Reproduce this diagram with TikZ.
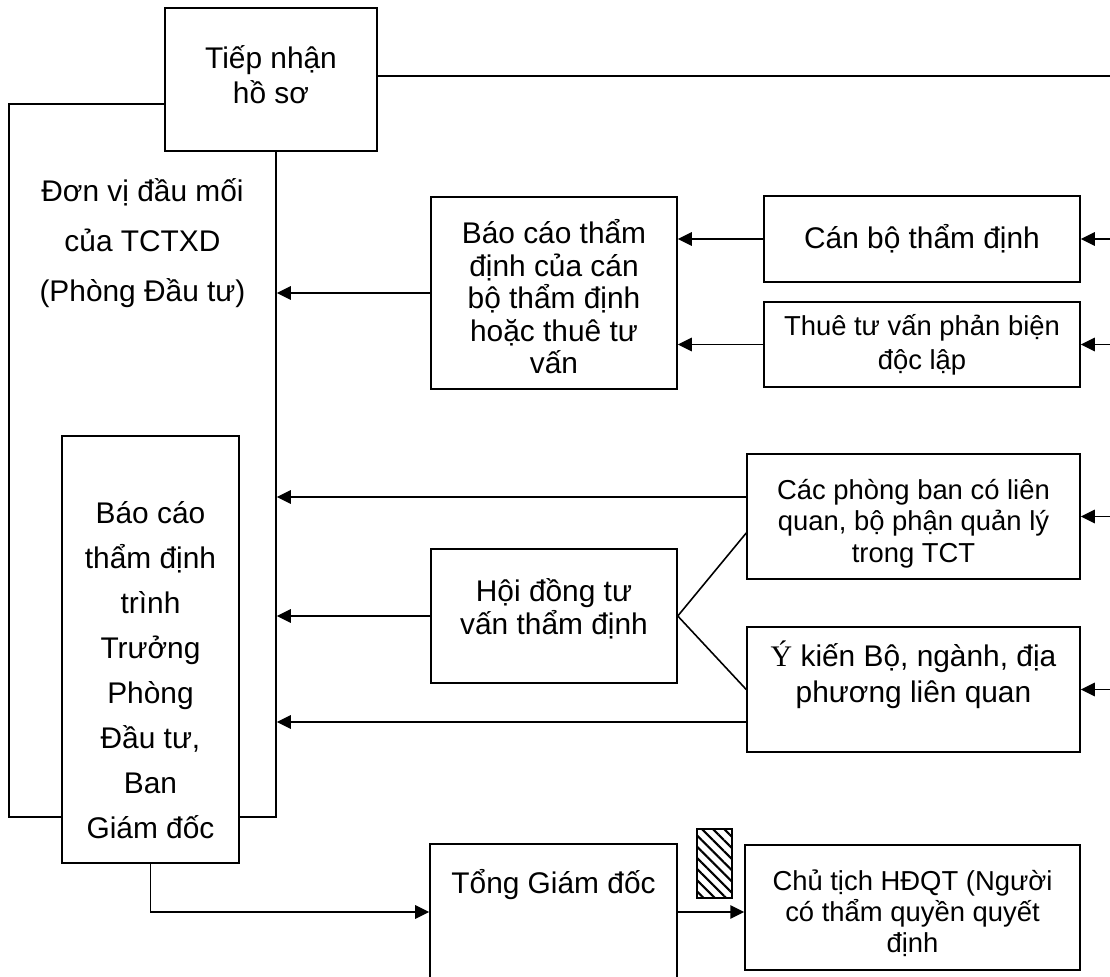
\documentclass[tikz,border=0pt]{standalone}
\usepackage{fontspec}
\setmainfont{Liberation Sans}
\newfontfamily\serifY{Liberation Serif}
\usetikzlibrary{arrows.meta,positioning,patterns.meta,calc}

\begin{document}
\begin{tikzpicture}[x=0.02cm, y=-0.02cm,
    box/.style={rectangle, draw, fill=white, line width=0.9pt, inner sep=0pt},
    txt/.style={align=center, inner sep=0pt},
    big/.style={font=\fontsize{17}{#1}\selectfont},
    small/.style={font=\fontsize{15.6}{#1}\selectfont},
    arrow/.style={-{Triangle[length=2.8mm, width=2.7mm]}, line width=0.9pt},
    link/.style={line width=0.9pt}
]
\useasboundingbox (0,0) rectangle (1110,977);

% frame of the focal unit, drawn first
\node[box, fill=none, minimum width=5.34cm, minimum height=14.26cm] (donvi) at (142.5,460.5) {};

\node[box, minimum width=4.24cm, minimum height=2.86cm] (tiep) at (271,79.5) {};
\node[box, minimum width=4.92cm, minimum height=3.84cm] (bc1) at (554,293) {};
\node[box, minimum width=6.32cm, minimum height=1.72cm] (canbo) at (922,239) {};
\node[box, minimum width=6.32cm, minimum height=1.70cm] (thue) at (922,344.5) {};
\node[box, minimum width=6.66cm, minimum height=2.5cm] (cacphong) at (913.5,516.5) {};
\node[box, minimum width=4.92cm, minimum height=2.68cm] (hoidong) at (554,616) {};
\node[box, minimum width=6.66cm, minimum height=2.5cm] (ykien) at (913.5,689.5) {};
\node[box, minimum width=3.54cm, minimum height=8.54cm] (bc2) at (150.5,649.5) {};
\node[box, minimum width=4.94cm, minimum height=2.72cm] (tgd) at (553.5,912) {};
\node[box, minimum width=6.7cm, minimum height=2.5cm] (chutich) at (912.5,907.5) {};
\node[box, minimum width=0.7cm, minimum height=1.38cm,
      pattern={Lines[angle=-45, distance=4.5pt, line width=1.2pt]}] (hatch) at (714.5,863.5) {};

% texts
\node[txt, big=20] (tiep-t) at (271,75) {Tiếp nhận\\hồ sơ};
\node[txt, big=28.5] (donvi-t) at (142.5,243) {Đơn vị đầu mối\\của TCTXD\\(Phòng Đầu tư)};
\node[txt, big=18.5] (bc1-t) at (554,297) {Báo cáo thẩm\\định của cán\\bộ thẩm định\\hoặc thuê tư\\vấn};
\node[txt, big=20] (canbo-t) at (922,239) {Cán bộ thẩm định};
\node[txt, small=19.4] (thue-t) at (922,345) {Thuê tư vấn phản biện\\độc lập};
\node[txt, small=17.8] (cacphong-t) at (913.5,523.5) {Các phòng ban có liên\\quan, bộ phận quản lý\\trong TCT};
\node[txt, big=19] (hoidong-t) at (554,608.5) {Hội đồng tư\\vấn thẩm định};
\node[txt, big=20.5] (ykien-t) at (913.5,675) {{\serifY Ý} kiến Bộ, ngành, địa\\phương liên quan};
\node[txt, big=25.6] (bc2-t) at (150.5,670.5) {Báo cáo\\thẩm định\\trình\\Trưởng\\Phòng\\Đầu tư,\\Ban\\Giám đốc};
\node[txt, big=20] (tgd-t) at (553.5,885) {Tổng Giám đốc};
\node[txt, small=17.6] (chutich-t) at (912.5,913) {Chủ tịch HĐQT (Người\\có thẩm quyền quyết\\định};

% connectors
\coordinate (rim) at (1110,0);
\coordinate (topend) at (1110,76);
\coordinate (cp-out) at ([yshift=0.39cm]cacphong.west);
\coordinate (cp-in) at ([yshift=-0.33cm]cacphong.west);
\coordinate (yk-out) at ([yshift=-0.65cm]ykien.west);

\draw[link] (tiep.east |- topend) -- (topend);
\draw[arrow] (bc1.west) -- (bc1.west -| donvi.east);
\draw[arrow] (canbo.west) -- (canbo.west -| bc1.east);
\draw[arrow] (thue.west) -- (thue.west -| bc1.east);
\draw[arrow] (rim |- canbo.east) -- (canbo.east);
\draw[arrow] (rim |- thue.east) -- (thue.east);
\draw[arrow] (rim |- cacphong.east) -- (cacphong.east);
\draw[arrow] (rim |- ykien.east) -- (ykien.east);
\draw[arrow] (cp-out) -- (cp-out -| donvi.east);
\draw[arrow] (hoidong.west) -- (hoidong.west -| donvi.east);
\draw[arrow] (yk-out) -- (yk-out -| donvi.east);
\draw[link] (cp-in) -- (hoidong.east) -- (ykien.west);
\draw[arrow] (bc2.south) |- (tgd.west);
\draw[arrow] (tgd.east) -- (tgd.east -| chutich.west);

\end{tikzpicture}
\end{document}
